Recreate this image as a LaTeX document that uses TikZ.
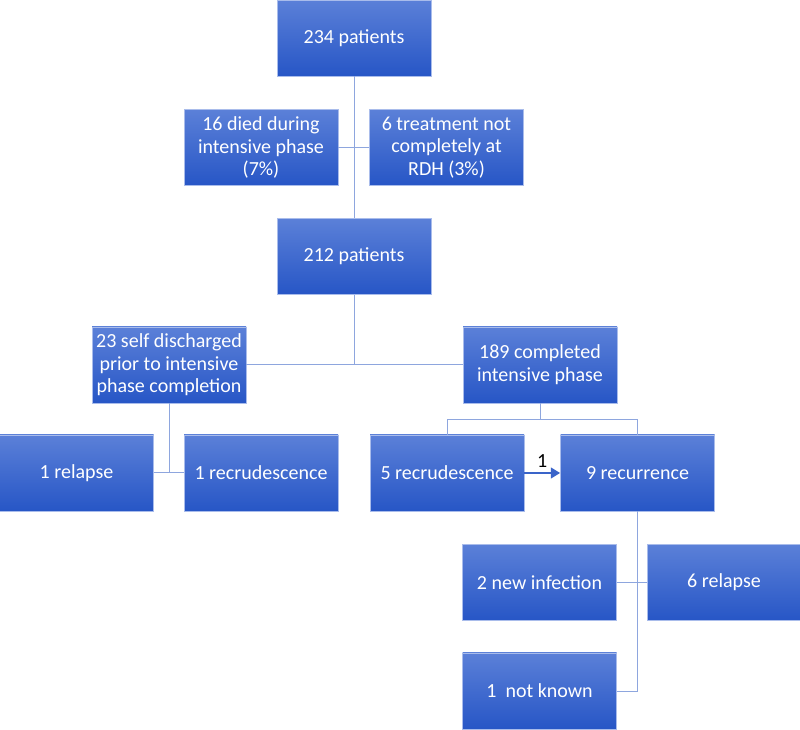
\documentclass[tikz,border=0pt]{standalone}
\usepackage{fontspec}
\setmainfont{Carlito}
\usetikzlibrary{arrows.meta, positioning, calc}
\definecolor{boxtop}{HTML}{5B80D8}
\definecolor{boxbot}{HTML}{2756C6}
\definecolor{boxln}{HTML}{A9BCEB}
\definecolor{conn}{HTML}{8EA6DE}
\definecolor{arrblu}{HTML}{3A64C9}
\tikzset{
  box/.style  = {rectangle, draw=boxln, line width=0.5pt,
                 top color=boxtop, bottom color=boxbot,
                 minimum width=115.5pt, minimum height=57pt, inner sep=1pt,
                 font=\fontsize{15}{17}\selectfont, align=center, text=white},
  link/.style = {draw=conn, line width=0.75pt},
  arr/.style  = {-{Triangle[length=7pt, width=8pt]}, line width=1.6pt, color=arrblu},
}
\begin{document}
\begin{tikzpicture}[x=0.75pt, y=-0.75pt]
  \useasboundingbox (0,0) rectangle (800,730);

  % top part
  \node[box] (p234)    at (354,38)    {234 patients};
  \node[box] (died)    at (261,147.5) {16 died during\\intensive phase\\(7\%)};
  \node[box] (notcomp) at (446.5,147.5) {6 treatment not\\completely at\\RDH (3\%)};
  \node[box] (p212)    at (354,256.5) {212 patients};

  % second level
  \node[box] (selfdis) at (169,365)   {23 self discharged\\prior to intensive\\phase completion};
  \node[box] (compl)   at (540,365)   {189 completed\\intensive phase};

  % outcomes
  \node[box] (relapseA) at (76.5,473) {1 relapse};
  \node[box] (recrudA)  at (261,473)  {1 recrudescence};
  \node[box] (recrudB)  at (447,473)  {5 recrudescence};
  \node[box] (recur)    at (637.5,473) {9 recurrence};
  \node[box] (newinf)   at (539.5,582.5) {2 new infection};
  \node[box] (relapseB) at (724,582.5) {6 relapse};
  \node[box] (notknown) at (539.5,691) {1\ \ not known};

  % connectors
  \draw[link] (p234) -- (p212);
  \draw[link] (died.east) -- (notcomp.west);
  \draw[link] (p212.south) -- (p212.south |- selfdis.east);
  \draw[link] (selfdis.east) -- (compl.west);
  \draw[link] (selfdis.south) -- (selfdis.south |- recrudA.west);
  \draw[link] (relapseA.east) -- (recrudA.west);

  \coordinate (fork) at ($(compl.south)+(0,16)$);
  \draw[link] (compl.south) -- (fork);
  \draw[link] (recrudB.north) |- (fork) -| (recur.north);

  \draw[link] (recur.south) |- (notknown.east);
  \draw[link] (newinf.east) -- (relapseB.west);

  % recrudescence to recurrence
  \draw[arr] (recrudB.east) -- node[above, text=black,
    font=\fontsize{15}{17}\selectfont]{1} (recur.west);

\end{tikzpicture}
\end{document}
